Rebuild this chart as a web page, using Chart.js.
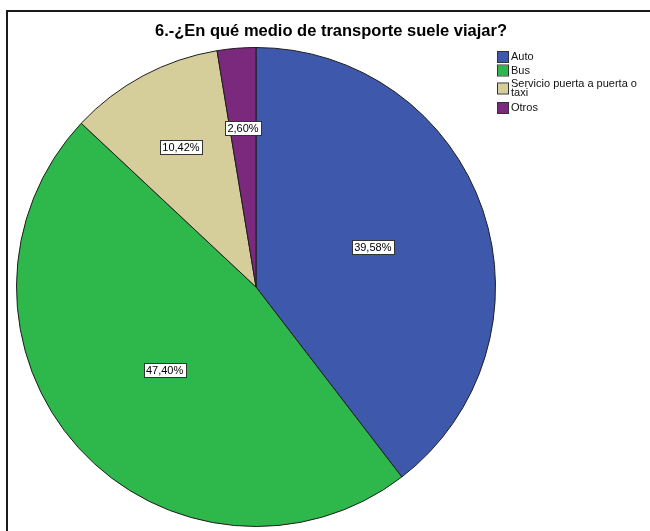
<!DOCTYPE html>
<html>
<head>
<meta charset="utf-8">
<script src="https://cdn.jsdelivr.net/npm/chart.js@4/dist/chart.umd.min.js"></script>
<style>
  html, body { margin: 0; padding: 0; background: #fff; }
  #wrap { width: 650px; height: 531px; }
</style>
</head>
<body>
<div id="wrap"><canvas id="pie" width="650" height="531"></canvas></div>
<script>
// Chart values
const titleText = '6.-¿En qué medio de transporte suele viajar?';
const categories = ['Auto', 'Bus', 'Servicio puerta a puerta o taxi', 'Otros'];
const legendLines = [['Auto'], ['Bus'], ['Servicio puerta a puerta o', 'taxi'], ['Otros']];
const percents = [39.58, 47.40, 10.42, 2.60];
const sliceColors = ['#3e58ac', '#2eb84c', '#d5ce9a', '#7b297c'];

const FONT = '"Liberation Sans", Arial, sans-serif';
const fmt = v => v.toFixed(2).replace('.', ',') + '%';

// Frame, title, legend and the boxed percent labels
const decorations = {
    id: 'decorations',
    afterDraw(chart) {
        const c = chart.ctx;
        c.save();

        // frame around the plot (open at right/bottom, like the cropped original)
        c.strokeStyle = '#1a1a1a';
        c.lineWidth = 2;
        c.beginPath();
        c.moveTo(7, 531);
        c.lineTo(7, 11);
        c.lineTo(650, 11);
        c.stroke();

        // title
        c.fillStyle = '#000';
        c.font = 'bold 16.5px ' + FONT;
        c.textAlign = 'center';
        c.textBaseline = 'alphabetic';
        c.fillText(titleText, 331, 36);

        // legend
        c.font = '11px ' + FONT;
        c.textAlign = 'left';
        c.textBaseline = 'middle';
        let y = 57;
        legendLines.forEach((lines, i) => {
            const cy = y + (lines.length - 1) * 4.5;
            c.fillStyle = sliceColors[i];
            c.fillRect(498, cy - 5, 10, 10);
            c.strokeStyle = '#333';
            c.lineWidth = 1;
            c.strokeRect(497.5, cy - 5.5, 11, 11);
            c.fillStyle = '#111';
            lines.forEach((t, k) => c.fillText(t, 511, y + k * 9));
            y += lines.length === 1 ? 13.5 : 24;
        });

        // percent labels in white boxes
        const meta = chart.getDatasetMeta(0);
        c.font = '11px ' + FONT;
        c.textAlign = 'center';
        meta.data.forEach((arc, i) => {
            const p = arc.getProps(['x', 'y', 'startAngle', 'endAngle', 'outerRadius'], true);
            const mid = (p.startAngle + p.endAngle) / 2;
            const f = percents[i] < 15 ? 0.665 : 0.515;
            const lx = p.x + Math.cos(mid) * p.outerRadius * f;
            const ly = p.y + Math.sin(mid) * p.outerRadius * f;
            const txt = fmt(percents[i]);
            const w = Math.round(c.measureText(txt).width) + 5;
            const h = 14;
            const bx = Math.round(lx - w / 2) + 0.5;
            const by = Math.round(ly - h / 2) + 0.5;
            c.fillStyle = '#fff';
            c.fillRect(bx, by, w, h);
            c.strokeStyle = '#333';
            c.strokeRect(bx, by, w, h);
            c.fillStyle = '#000';
            c.fillText(txt, lx, ly + 1);
        });

        c.restore();
    }
};

new Chart(document.getElementById('pie'), {
    type: 'pie',
    data: {
        labels: categories,
        datasets: [{
            data: percents,
            backgroundColor: sliceColors,
            borderColor: '#1e1e1e',
            borderWidth: 1
        }]
    },
    options: {
        responsive: false,
        animation: false,
        layout: {
            padding: { left: 16, right: 154, top: 47, bottom: 4 }
        },
        plugins: {
            legend: { display: false },
            title: { display: false },
            tooltip: { enabled: false }
        }
    },
    plugins: [decorations]
});
</script>
</body>
</html>
